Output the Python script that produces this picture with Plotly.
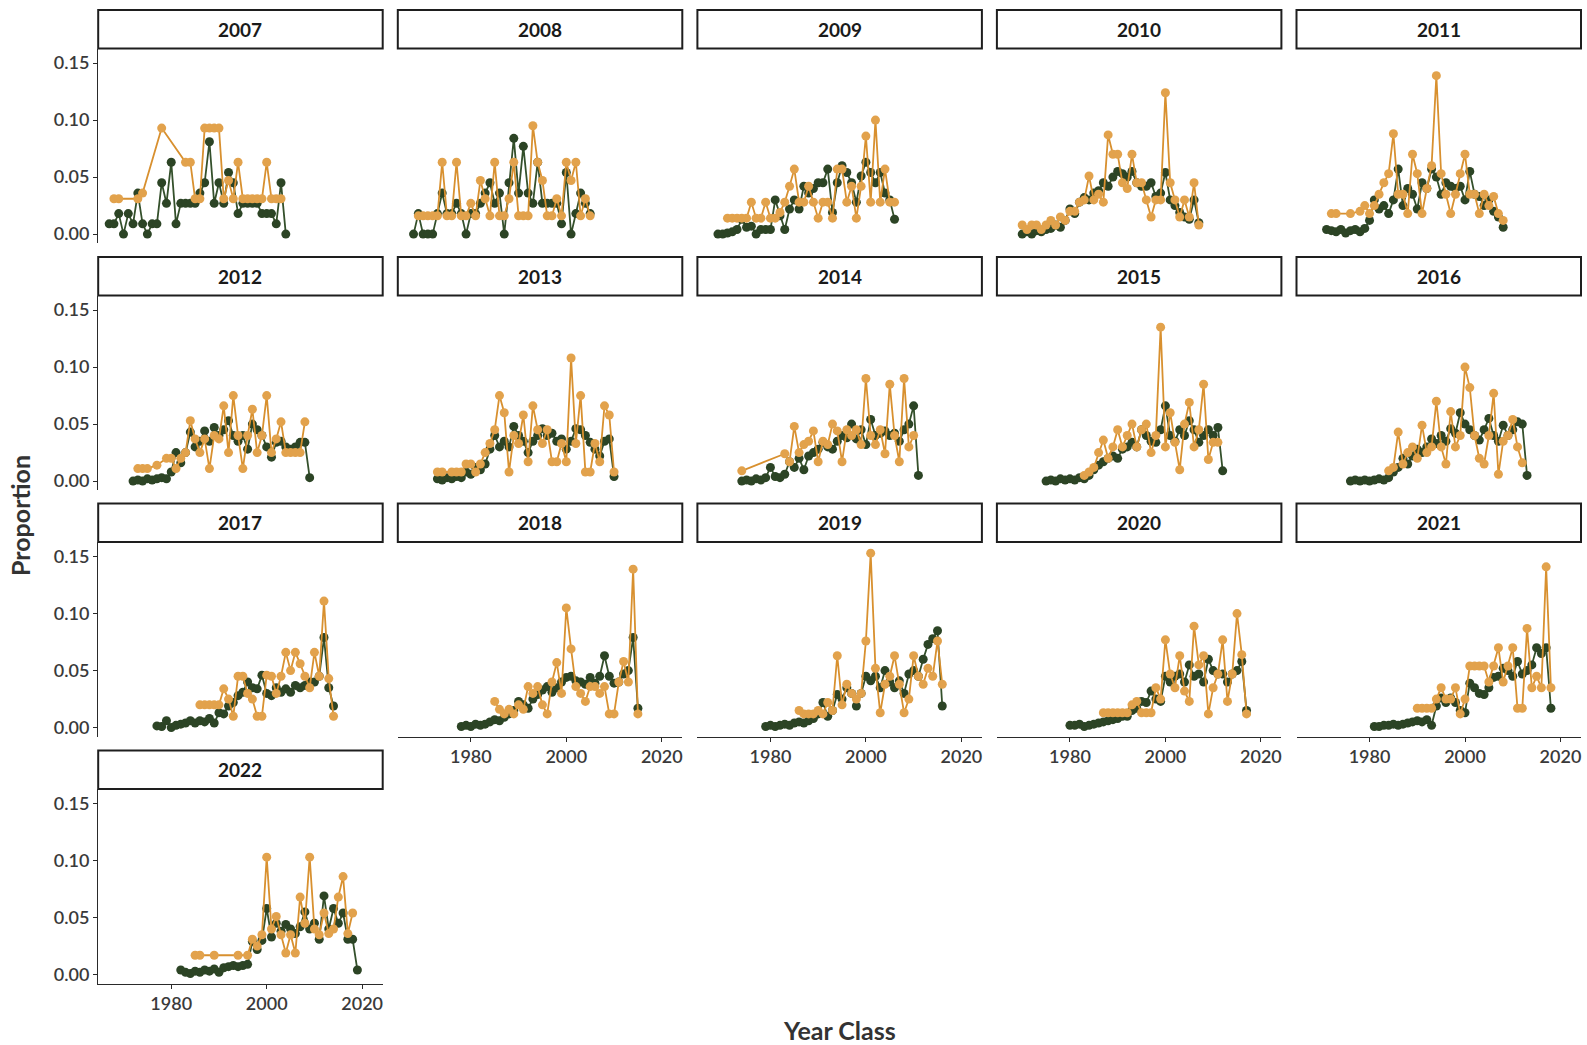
import plotly.graph_objects as go

# ---------------- data ----------------
SURVEY_YEARS = [2007, 2008, 2009, 2010, 2011, 2012, 2013, 2014,
                2015, 2016, 2017, 2018, 2019, 2020, 2021, 2022]
# year classes in each panel run from survey-40 to survey-3 (38 values)
FIRST_AGE = 40
LAST_AGE = 3
N = None

G2007 = [0.009, 0.009, 0.018, 0.0, 0.018, 0.009, 0.036, 0.009, 0.0, 0.009, 0.009, 0.045, 0.027, 0.063, 0.009, 0.027, 0.027, 0.027, 0.027, 0.036, 0.045, 0.081, 0.027, 0.045, 0.027, 0.054, 0.045, 0.018, 0.027, 0.027, 0.027, 0.027, 0.018, 0.018, 0.018, 0.009, 0.045, 0.0]
O2007 = [N, 0.031, 0.031, N, N, N, 0.031, 0.036, N, N, N, 0.093, N, N, N, N, 0.063, 0.063, 0.031, 0.031, 0.093, 0.093, 0.093, 0.093, 0.031, 0.047, 0.031, 0.063, 0.031, 0.031, 0.031, 0.031, 0.031, 0.063, 0.031, 0.031, 0.031, N]

G2008 = [0.0, 0.018, 0.0, 0.0, 0.0, 0.018, 0.036, 0.018, 0.018, 0.027, 0.018, 0.0, 0.018, 0.018, 0.027, 0.036, 0.045, 0.027, 0.036, 0.0, 0.045, 0.084, 0.036, 0.077, 0.036, 0.027, 0.063, 0.027, 0.027, 0.027, 0.027, 0.009, 0.054, 0.0, 0.018, 0.036, 0.027, 0.018]
O2008 = [N, 0.016, 0.016, 0.016, 0.016, 0.016, 0.063, 0.016, 0.016, 0.063, 0.016, 0.016, 0.027, 0.016, 0.047, 0.031, 0.016, 0.063, 0.016, 0.016, 0.031, 0.063, 0.016, 0.016, 0.016, 0.095, 0.063, 0.047, 0.016, 0.016, 0.031, 0.016, 0.063, 0.047, 0.063, 0.016, 0.031, 0.016]

G2009 = [0.0, 0.0, 0.001, 0.002, 0.004, 0.013, 0.006, 0.007, 0.0, 0.004, 0.004, 0.004, 0.03, 0.016, 0.004, 0.022, 0.03, 0.022, 0.042, 0.036, 0.04, 0.045, 0.045, 0.057, 0.019, 0.045, 0.06, 0.054, 0.045, 0.028, 0.051, 0.063, 0.054, 0.045, 0.054, 0.036, 0.03, 0.013]
O2009 = [N, N, 0.014, 0.014, 0.014, 0.014, 0.014, 0.028, 0.014, 0.014, 0.028, 0.014, 0.014, 0.019, 0.028, 0.042, 0.057, 0.028, 0.028, 0.042, 0.028, 0.014, 0.028, 0.028, 0.014, 0.057, 0.057, 0.028, 0.042, 0.014, 0.042, 0.086, 0.028, 0.1, 0.028, 0.057, 0.028, 0.028]

G2010 = [0.0, 0.002, 0.0, 0.003, 0.002, 0.004, 0.005, 0.008, 0.006, 0.012, 0.022, 0.018, 0.028, 0.032, 0.03, 0.036, 0.038, 0.045, 0.042, 0.05, 0.055, 0.053, 0.05, 0.055, 0.045, 0.042, 0.042, 0.045, 0.033, 0.036, 0.054, 0.03, 0.025, 0.019, 0.015, 0.013, 0.03, 0.01]
O2010 = [0.008, 0.004, 0.008, 0.008, 0.004, 0.008, 0.012, 0.008, 0.015, 0.012, 0.02, 0.02, 0.028, 0.03, 0.051, 0.03, 0.035, 0.028, 0.087, 0.07, 0.07, 0.045, 0.04, 0.07, 0.045, 0.045, 0.03, 0.015, 0.03, 0.03, 0.124, 0.045, 0.03, 0.015, 0.03, 0.015, 0.045, 0.008]

G2011 = [0.004, 0.003, 0.002, 0.004, 0.001, 0.003, 0.004, 0.002, 0.005, 0.012, 0.03, 0.022, 0.025, 0.018, 0.03, 0.057, 0.025, 0.04, 0.035, 0.022, 0.045, 0.04, 0.057, 0.05, 0.035, 0.045, 0.042, 0.04, 0.042, 0.03, 0.055, 0.035, 0.033, 0.025, 0.03, 0.02, 0.015, 0.006]
O2011 = [N, 0.018, 0.018, N, N, 0.018, N, 0.02, 0.025, 0.018, 0.025, 0.035, 0.045, 0.053, 0.088, 0.035, 0.035, 0.018, 0.07, 0.053, 0.018, 0.04, 0.06, 0.139, 0.053, 0.035, 0.018, 0.035, 0.053, 0.07, 0.035, 0.035, 0.018, 0.035, 0.025, 0.033, 0.018, 0.012]

G2012 = [0.0, 0.001, 0.0, 0.002, 0.001, 0.002, 0.003, 0.002, 0.008, 0.025, 0.016, 0.025, 0.043, 0.03, 0.035, 0.044, 0.035, 0.047, 0.04, 0.045, 0.053, 0.04, 0.035, 0.04, 0.028, 0.05, 0.045, 0.04, 0.03, 0.021, 0.034, 0.035, 0.03, 0.028, 0.03, 0.034, 0.034, 0.003]
O2012 = [N, 0.011, 0.011, 0.011, N, 0.014, N, 0.02, 0.02, 0.011, 0.02, 0.025, 0.053, 0.037, 0.025, 0.037, 0.011, 0.04, 0.037, 0.066, 0.025, 0.075, 0.04, 0.011, 0.04, 0.063, 0.025, 0.04, 0.075, 0.025, 0.037, 0.052, 0.025, 0.025, 0.025, 0.025, 0.052, N]

G2013 = [0.002, 0.001, 0.003, 0.002, 0.004, 0.003, 0.008, 0.006, 0.012, 0.01, 0.015, 0.028, 0.04, 0.03, 0.035, 0.03, 0.048, 0.04, 0.035, 0.025, 0.035, 0.04, 0.046, 0.04, 0.042, 0.035, 0.037, 0.028, 0.035, 0.046, 0.045, 0.04, 0.034, 0.028, 0.022, 0.035, 0.037, 0.004]
O2013 = [0.008, 0.008, N, 0.008, 0.008, 0.008, 0.015, 0.015, 0.008, 0.015, 0.025, 0.033, 0.045, 0.075, 0.06, 0.008, 0.04, 0.033, 0.058, 0.017, 0.066, 0.045, 0.033, 0.045, 0.017, 0.017, 0.033, 0.017, 0.108, 0.033, 0.075, 0.008, 0.008, 0.033, 0.017, 0.066, 0.058, 0.008]

G2014 = [0.0, 0.001, 0.0, 0.002, 0.001, 0.003, 0.012, 0.004, 0.003, 0.006, 0.017, 0.012, 0.02, 0.01, 0.022, 0.025, 0.028, 0.034, 0.03, 0.028, 0.035, 0.04, 0.038, 0.05, 0.037, 0.045, 0.032, 0.054, 0.04, 0.042, 0.044, 0.04, 0.042, 0.035, 0.045, 0.05, 0.066, 0.005]
O2014 = [0.009, N, N, N, N, N, N, N, N, 0.024, 0.017, 0.048, 0.025, 0.032, 0.035, 0.044, 0.017, 0.035, 0.032, 0.05, 0.044, 0.017, 0.045, 0.04, 0.045, 0.032, 0.09, 0.04, 0.032, 0.045, 0.024, 0.085, 0.04, 0.017, 0.09, 0.03, 0.04, N]

G2015 = [0.0, 0.001, 0.0, 0.002, 0.001, 0.002, 0.001, 0.003, 0.002, 0.005, 0.01, 0.014, 0.017, 0.02, 0.022, 0.02, 0.028, 0.03, 0.034, 0.03, 0.045, 0.04, 0.035, 0.034, 0.045, 0.066, 0.04, 0.035, 0.045, 0.04, 0.053, 0.045, 0.034, 0.04, 0.045, 0.04, 0.047, 0.009]
O2015 = [N, N, N, N, N, N, N, N, 0.005, 0.008, 0.012, 0.025, 0.036, 0.02, 0.03, 0.045, 0.03, 0.04, 0.05, 0.03, 0.045, 0.05, 0.025, 0.04, 0.135, 0.03, 0.06, 0.034, 0.01, 0.05, 0.069, 0.03, 0.045, 0.085, 0.019, 0.034, 0.034, N]

G2016 = [0.0, 0.001, 0.0, 0.001, 0.0, 0.001, 0.002, 0.001, 0.003, 0.008, 0.012, 0.02, 0.015, 0.022, 0.028, 0.025, 0.03, 0.037, 0.033, 0.04, 0.035, 0.046, 0.042, 0.06, 0.05, 0.045, 0.04, 0.036, 0.045, 0.055, 0.04, 0.035, 0.049, 0.04, 0.045, 0.052, 0.05, 0.005]
O2016 = [N, N, N, N, N, N, N, N, 0.009, 0.012, 0.043, 0.015, 0.025, 0.03, 0.02, 0.049, 0.025, 0.03, 0.07, 0.03, 0.015, 0.061, 0.03, 0.04, 0.1, 0.082, 0.04, 0.02, 0.015, 0.04, 0.077, 0.006, 0.035, 0.04, 0.054, 0.03, 0.016, N]

G2017 = [0.0015, 0.001, 0.006, 0.0, 0.002, 0.003, 0.004, 0.006, 0.004, 0.006, 0.005, 0.008, 0.004, 0.013, 0.012, 0.019, 0.022, 0.028, 0.031, 0.04, 0.035, 0.034, 0.046, 0.03, 0.028, 0.035, 0.031, 0.034, 0.031, 0.037, 0.035, 0.037, 0.04, 0.04, 0.045, 0.079, 0.035, 0.019]
O2017 = [N, N, N, N, N, N, N, N, N, 0.02, 0.02, 0.02, 0.02, 0.02, 0.034, 0.025, 0.01, 0.045, 0.045, 0.03, 0.025, 0.01, 0.01, 0.046, 0.045, 0.03, 0.045, 0.066, 0.05, 0.066, 0.056, 0.045, 0.035, 0.066, 0.045, 0.111, 0.043, 0.01]

G2018 = [0.001, 0.002, 0.001, 0.003, 0.002, 0.003, 0.005, 0.007, 0.006, 0.009, 0.012, 0.015, 0.023, 0.02, 0.017, 0.025, 0.029, 0.033, 0.036, 0.031, 0.035, 0.04, 0.044, 0.045, 0.041, 0.04, 0.038, 0.044, 0.039, 0.045, 0.063, 0.045, 0.039, 0.04, 0.047, 0.05, 0.079, 0.017]
O2018 = [N, N, N, N, N, N, N, 0.023, 0.016, 0.012, 0.016, 0.012, 0.02, 0.016, 0.036, 0.03, 0.036, 0.02, 0.012, 0.04, 0.057, 0.03, 0.105, 0.069, 0.036, 0.03, 0.023, 0.036, 0.036, 0.03, 0.036, 0.012, 0.012, 0.04, 0.058, 0.04, 0.139, 0.012]

G2019 = [0.001, 0.002, 0.001, 0.002, 0.003, 0.002, 0.004, 0.005, 0.004, 0.006, 0.008, 0.012, 0.022, 0.01, 0.015, 0.029, 0.025, 0.035, 0.03, 0.019, 0.03, 0.045, 0.041, 0.045, 0.035, 0.05, 0.04, 0.035, 0.041, 0.03, 0.047, 0.05, 0.045, 0.06, 0.073, 0.078, 0.085, 0.019]
O2019 = [N, N, N, N, N, N, N, 0.015, 0.012, 0.012, 0.012, 0.015, 0.012, 0.022, 0.015, 0.063, 0.02, 0.038, 0.03, 0.025, 0.03, 0.076, 0.153, 0.052, 0.013, 0.038, 0.045, 0.063, 0.038, 0.013, 0.025, 0.063, 0.045, 0.038, 0.052, 0.045, 0.076, 0.038]

G2020 = [0.002, 0.002, 0.003, 0.001, 0.002, 0.003, 0.004, 0.005, 0.006, 0.007, 0.008, 0.01, 0.01, 0.015, 0.017, 0.023, 0.022, 0.032, 0.025, 0.023, 0.045, 0.04, 0.045, 0.047, 0.04, 0.055, 0.045, 0.047, 0.04, 0.06, 0.05, 0.047, 0.047, 0.04, 0.047, 0.05, 0.058, 0.015]
O2020 = [N, N, N, N, N, N, N, 0.013, 0.013, 0.013, 0.013, 0.013, 0.013, 0.02, 0.023, 0.013, 0.013, 0.013, 0.035, 0.025, 0.077, 0.047, 0.035, 0.063, 0.032, 0.023, 0.089, 0.055, 0.063, 0.012, 0.035, 0.047, 0.077, 0.023, 0.047, 0.1, 0.064, 0.012]

G2021 = [0.001, 0.001, 0.002, 0.002, 0.003, 0.002, 0.003, 0.004, 0.005, 0.006, 0.005, 0.007, 0.002, 0.019, 0.026, 0.022, 0.026, 0.022, 0.015, 0.013, 0.039, 0.035, 0.03, 0.029, 0.035, 0.044, 0.045, 0.052, 0.05, 0.045, 0.058, 0.047, 0.05, 0.055, 0.07, 0.065, 0.07, 0.017]
O2021 = [N, N, N, N, N, N, N, N, N, 0.017, 0.017, 0.017, 0.017, 0.025, 0.035, 0.025, 0.025, 0.035, 0.012, 0.025, 0.054, 0.054, 0.054, 0.054, 0.04, 0.054, 0.07, 0.04, 0.054, 0.07, 0.017, 0.017, 0.087, 0.035, 0.045, 0.035, 0.141, 0.035]

G2022 = [0.004, 0.002, 0.001, 0.003, 0.002, 0.004, 0.003, 0.005, 0.002, 0.006, 0.007, 0.008, 0.007, 0.008, 0.009, 0.029, 0.022, 0.03, 0.058, 0.033, 0.045, 0.038, 0.044, 0.04, 0.036, 0.042, 0.055, 0.04, 0.045, 0.031, 0.069, 0.04, 0.058, 0.045, 0.054, 0.031, 0.031, 0.004]
O2022 = [N, N, N, 0.017, 0.017, N, N, 0.017, N, N, N, N, 0.017, N, 0.017, 0.031, 0.025, 0.035, 0.103, 0.04, 0.051, 0.035, 0.019, 0.035, 0.019, 0.068, 0.045, 0.103, 0.04, 0.035, 0.054, 0.036, 0.04, 0.068, 0.086, 0.036, 0.054, N]

GREEN = [G2007, G2008, G2009, G2010, G2011, G2012, G2013, G2014,
         G2015, G2016, G2017, G2018, G2019, G2020, G2021, G2022]
ORANGE = [O2007, O2008, O2009, O2010, O2011, O2012, O2013, O2014,
          O2015, O2016, O2017, O2018, O2019, O2020, O2021, O2022]

Y_TICKS = [0.0, 0.05, 0.10, 0.15]
Y_TICK_LABELS = ["0.00", "0.05", "0.10", "0.15"]
X_TICKS = [1980, 2000, 2020]
X_TICK_LABELS = ["1980", "2000", "2020"]

# ---------------- layout / style ----------------
W, H = 1587, 1045
COL_LEFT = [98.2, 397.8, 697.4, 996.9, 1296.5]
PANEL_W = 284.5
ROW_TOP = [48.5, 295.5, 542.0, 789.0]
PANEL_H = 194.5
STRIP_H = 38.5
X_RANGE = [1964.7, 2024.3]
Y_RANGE = [-0.0078, 0.1628]

GREEN_LINE = "#34502B"
GREEN_MARK = "#2C4425"
ORANGE_LINE = "#D8902F"
ORANGE_MARK = "#E2A24C"
AXIS_COLOR = "#2a2a2a"
FONT = "Lato"
TICK_FONT = dict(family=FONT, size=18, color="#3a3a3a", weight=600)

fig = go.Figure()
layout_axes = {}
shapes = []
annotations = []

x_axis_panels = {11, 12, 13, 14, 15}
y_axis_panels = {0, 5, 10, 15}

for i, survey in enumerate(SURVEY_YEARS):
    row, col = divmod(i, 5)
    years = list(range(survey - FIRST_AGE, survey - LAST_AGE + 1))
    k = "" if i == 0 else str(i + 1)
    xa, ya = "x" + k, "y" + k

    fig.add_trace(go.Scatter(
        x=years, y=GREEN[i], mode="lines+markers", xaxis=xa, yaxis=ya,
        line=dict(color=GREEN_LINE, width=1.8),
        marker=dict(color=GREEN_MARK, size=9), connectgaps=True,
        showlegend=False, hoverinfo="x+y"))
    fig.add_trace(go.Scatter(
        x=years, y=ORANGE[i], mode="lines+markers", xaxis=xa, yaxis=ya,
        line=dict(color=ORANGE_LINE, width=1.8),
        marker=dict(color=ORANGE_MARK, size=9), connectgaps=True,
        showlegend=False, hoverinfo="x+y"))

    L = COL_LEFT[col]
    T = ROW_TOP[row]
    xdom = [L / W, (L + PANEL_W) / W]
    ydom = [1 - (T + PANEL_H) / H, 1 - T / H]

    show_x = i in x_axis_panels
    show_y = i in y_axis_panels
    layout_axes["xaxis" + k] = dict(
        domain=xdom, anchor=ya, range=X_RANGE, showgrid=False, zeroline=False,
        showline=show_x, linecolor=AXIS_COLOR, linewidth=1.3,
        ticks="outside" if show_x else "", ticklen=4, tickcolor=AXIS_COLOR,
        tickvals=X_TICKS, ticktext=X_TICK_LABELS, showticklabels=show_x,
        tickfont=TICK_FONT, fixedrange=True)
    layout_axes["yaxis" + k] = dict(
        domain=ydom, anchor=xa, range=Y_RANGE, showgrid=False, zeroline=False,
        showline=show_y, linecolor=AXIS_COLOR, linewidth=1.3,
        ticks="outside" if show_y else "", ticklen=4, tickcolor=AXIS_COLOR,
        tickvals=Y_TICKS, ticktext=Y_TICK_LABELS, showticklabels=show_y,
        tickfont=TICK_FONT, fixedrange=True)

    # facet strip
    shapes.append(dict(
        type="rect", xref="paper", yref="paper",
        x0=L / W, x1=(L + PANEL_W) / W,
        y0=1 - T / H, y1=1 - (T - STRIP_H) / H,
        line=dict(color="#1e1e1e", width=2), fillcolor="white", layer="below"))
    annotations.append(dict(
        xref="paper", yref="paper", x=(L + PANEL_W / 2) / W,
        y=1 - (T - STRIP_H / 2) / H, text="<b>%d</b>" % survey,
        showarrow=False, xanchor="center", yanchor="middle",
        font=dict(family=FONT, size=19, color="#1a1a1a")))

annotations.append(dict(
    xref="paper", yref="paper", x=20 / W, y=1 - 516 / H, text="<b>Proportion</b>",
    textangle=-90, showarrow=False, xanchor="center", yanchor="middle",
    font=dict(family=FONT, size=25, color="#333333")))
annotations.append(dict(
    xref="paper", yref="paper", x=839 / W, y=1 - 1030 / H, text="<b>Year Class</b>",
    showarrow=False, xanchor="center", yanchor="middle",
    font=dict(family=FONT, size=25, color="#333333")))

fig.update_layout(
    width=W, height=H, margin=dict(l=0, r=0, t=0, b=0),
    paper_bgcolor="white", plot_bgcolor="white",
    shapes=shapes, annotations=annotations, showlegend=False,
    **layout_axes)

fig.write_html(
    "out.html",
    config={"displayModeBar": False},
    post_script="document.body.style.margin='0px';document.body.style.overflow='hidden';")
